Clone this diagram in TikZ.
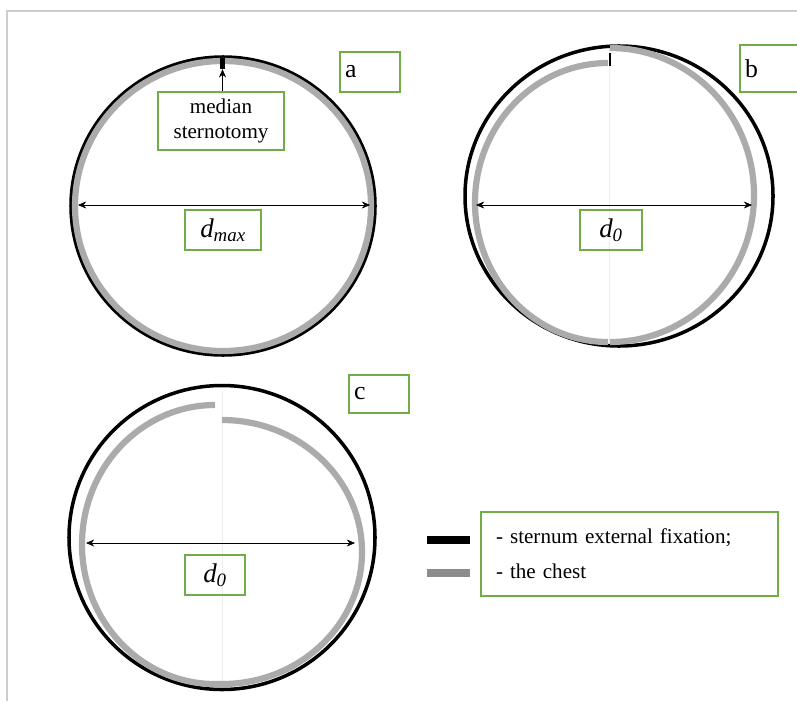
\documentclass[tikz,border=0pt]{standalone}
\usepackage{fontspec}
\setmainfont{Liberation Serif}
\usetikzlibrary{arrows.meta}
\definecolor{boxgreen}{RGB}{112,173,71}
\definecolor{chestgray}{RGB}{172,170,170}
\definecolor{keygray}{RGB}{140,140,140}
\definecolor{framegray}{RGB}{205,205,205}
\begin{document}
\begin{tikzpicture}[x=0.03cm, y=-0.03cm,
	fixline/.style={line width=3pt, black},
	chestline/.style={line width=5.3pt, chestgray},
	greenbox/.style={draw=boxgreen, line width=1pt, inner sep=0pt, font=\fontsize{18}{22}\selectfont},
	letterbox/.style={greenbox, inner xsep=0.15cm, text width=1.5cm, align=left, minimum height=1.2cm, font=\fontsize{22}{24}\selectfont},
	dlabel/.style={greenbox, minimum height=1.2cm, font=\fontsize{23}{24}\selectfont\itshape},
	span/.style={{Stealth[length=7pt,width=6pt]}-{Stealth[length=7pt,width=6pt]}, line width=0.5pt},
	midline/.style={black!7, line width=0.6pt}]
	\clip (0,0) rectangle (797,701);
	\newcommand{\spanArrow}[4]{
		% draws a diameter
		% args:
		%     name
		%     y
		%     left x
		%     right x
		\coordinate (#1_l) at (#3,#2);
		\coordinate (#1_r) at (#4,#2);
		\draw[span] (#1_l) -- (#1_r);
	}
	% frame
	\draw[framegray, line width=1.2pt] (797,11) -- (7,11) -- (7,701);
	%
	% a: closed chest
	\draw[fixline] (223,206) ellipse [x radius=152, y radius=149];
	\draw[chestline] (223,206) ellipse [x radius=148, y radius=145];
	\node[fill=black, inner sep=0pt, minimum width=0.15cm, minimum height=0.33cm] (cut) at (222.5,63.5) {};
	\node[greenbox, minimum width=3.78cm, minimum height=1.74cm, align=center] (cutlabel) at (221,121) {median\\sternotomy};
	\draw[-{Stealth[length=7pt,width=6pt]}, line width=0.5pt] (cutlabel.north -| cut) -- (cut.south);
	\spanArrow{da}{205}{78}{370}
	\node[dlabel, minimum width=2.28cm] (dmax) at (223,230) {d\textsubscript{max}};
	\node[letterbox] (lbla) at (370,72) {a};
	%
	% b: opened chest, halves apart
	\draw[midline] (609,48) -- (609,343);
	\draw[fixline] (619,196) ellipse [x radius=154, y radius=150];
	\draw[chestline] (610,48) arc [start angle=-90, end angle=90, x radius=144, y radius=147];
	\draw[chestline] (608,63) arc [start angle=270, end angle=90, x radius=133, y radius=139.5];
	\draw[line width=1.5pt] (610,53) -- (610,66);
	\spanArrow{db}{205}{476}{752}
	\node[dlabel, minimum width=1.86cm] (dzb) at (611,230) {d\textsubscript{0}};
	\node[letterbox, minimum height=1.41cm] (lblb) at (770,68.5) {b};
	%
	% c: halves shifted
	\draw[midline] (222,390) -- (222,688);
	\draw[fixline] (222,537.5) ellipse [x radius=153, y radius=152];
	\draw[chestline] (215,405) arc [start angle=270, end angle=90, x radius=133, y radius=139.5] -- (222,684);
	\draw[chestline] (222,420) arc [start angle=-90, end angle=90, x radius=140, y radius=132];
	\spanArrow{dc}{543}{86}{355}
	\node[dlabel, minimum width=1.8cm] (dzc) at (215,575) {d\textsubscript{0}};
	\node[letterbox, minimum height=1.14cm] (lblc) at (379,394) {c};
	%
	% key
	\node[fill=black, inner sep=0pt, minimum width=1.29cm, minimum height=0.24cm] (keyfix) at (448.5,540) {};
	\node[fill=keygray, inner sep=0pt, minimum width=1.29cm, minimum height=0.24cm] (keychest) at (448.5,573) {};
	\node[greenbox, minimum width=8.91cm, minimum height=2.52cm, inner xsep=0.45cm, text width=8.01cm, align=left, font=\fontsize{18}{30}\selectfont] (key) at (629.5,554) {- sternum external fixation;\\- the chest};
\end{tikzpicture}
\end{document}
